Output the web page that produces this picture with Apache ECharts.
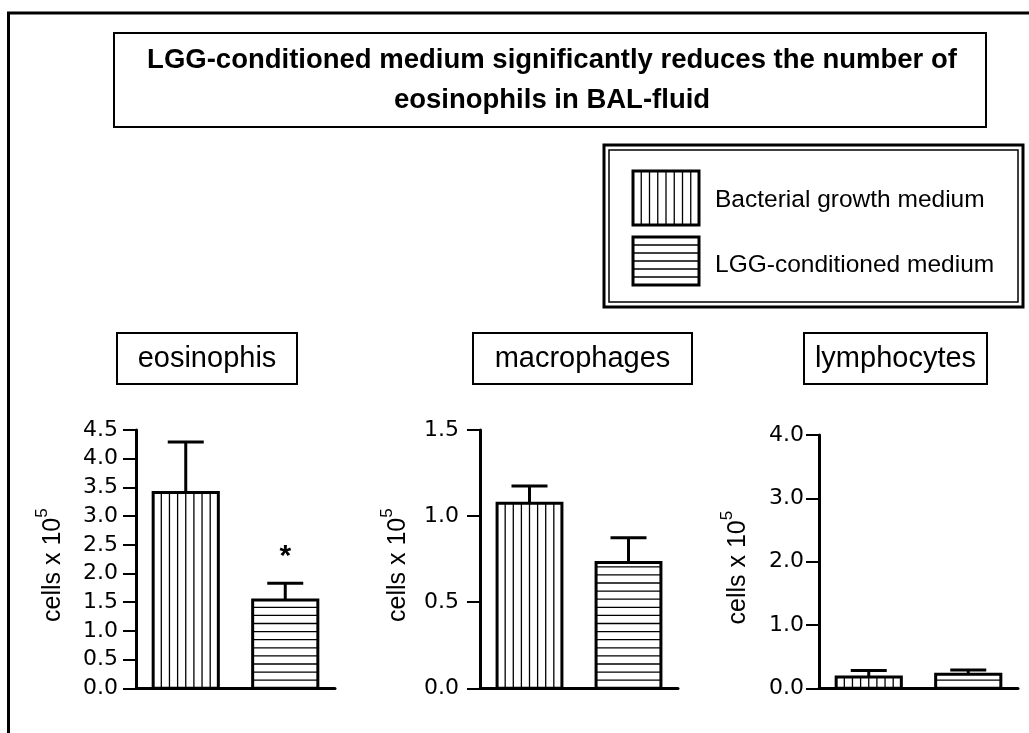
<!DOCTYPE html>
<html>
<head>
<meta charset="utf-8">
<script src="https://cdn.jsdelivr.net/npm/echarts@6/dist/echarts.min.js"></script>
<style>html,body{margin:0;padding:0;background:#fff;}#c{width:1029px;height:733px;}</style>
</head>
<body>
<div id="c"></div>
<script>
// ---- data ----
const titleLines = ['LGG-conditioned medium significantly reduces the number of', 'eosinophils in BAL-fluid'];
const groups = ['Bacterial growth medium', 'LGG-conditioned medium'];
const groupPatterns = ['vertical', 'horizontal'];
const panelNames = ['eosinophis', 'macrophages', 'lymphocytes'];
const yAxisName = 'cells x 10';
const yAxisExp = '5';
const eosMean = [3.41, 1.54];
const eosErrTop = [4.29, 1.83];
const eosSig = ['', '*'];
const macMean = [1.074, 0.73];
const macErrTop = [1.175, 0.875];
const macSig = ['', ''];
const lymMean = [0.18, 0.22];
const lymErrTop = [0.28, 0.29];
const lymSig = ['', ''];
const yMax = [4.5, 1.5, 4.0];
const yInterval = [0.5, 0.5, 1.0];

const FONT = '"Liberation Sans", Arial, sans-serif';
const TICKFONT = '"DejaVu Sans", "Liberation Sans", sans-serif';
const chart = echarts.init(document.getElementById('c'));

function buildData(mean, errTop, sig) {
  return mean.map((m, i) => [i, m, errTop[i], sig[i]]);
}

function renderBar(params, api) {
  const idx = api.value(0);
  const mean = api.value(1);
  const top = api.value(2);
  const sig = api.value(3);
  const base = api.coord([idx, 0]);
  const p = api.coord([idx, mean]);
  const e = api.coord([idx, top]);
  const band = api.size([1, 0])[0];
  const bw = band * 0.655;
  const x0 = base[0] - bw / 2;
  const y0 = p[1];
  const yb = base[1];
  const children = [];
  children.push({type: 'line', shape: {x1: base[0], y1: y0, x2: base[0], y2: e[1]}, style: {stroke: '#000', lineWidth: 3}});
  children.push({type: 'line', shape: {x1: base[0] - 18, y1: e[1], x2: base[0] + 18, y2: e[1]}, style: {stroke: '#000', lineWidth: 3}});
  children.push({type: 'rect', shape: {x: x0, y: y0, width: bw, height: yb - y0}, style: {fill: '#fff', stroke: '#000', lineWidth: 3}});
  if (groupPatterns[idx] === 'vertical') {
    for (let k = 1; k < 8; k++) {
      const x = x0 + k * bw / 8;
      children.push({type: 'line', shape: {x1: x, y1: y0, x2: x, y2: yb}, style: {stroke: '#000', lineWidth: 1.3}});
    }
  } else {
    for (let y = yb - 8.1; y > y0 + 2; y -= 8.1) {
      children.push({type: 'line', shape: {x1: x0, y1: y, x2: x0 + bw, y2: y}, style: {stroke: '#000', lineWidth: 1.3}});
    }
  }
  if (sig) {
    children.push({type: 'text', x: base[0], y: e[1] - 27, style: {text: sig, font: 'bold 30px ' + FONT, fill: '#000', align: 'center', verticalAlign: 'middle'}});
  }
  return {type: 'group', children: children};
}

const grids = [
  {left: 136, top: 430, width: 199, height: 258.3},
  {left: 480, top: 430, width: 198, height: 258.3},
  {left: 819, top: 435, width: 199, height: 253.3}
];
const nameGaps = [70, 69, 68];
const labelMargins = [18, 21, 15];

const xAxes = grids.map((g, i) => ({
  type: 'category', gridIndex: i, data: groups,
  axisLine: {lineStyle: {color: '#000', width: 3}},
  axisTick: {show: false}, axisLabel: {show: false}, splitLine: {show: false}
}));
const yAxes = grids.map((g, i) => ({
  type: 'value', gridIndex: i, min: 0, max: yMax[i], interval: yInterval[i],
  axisLine: {show: true, lineStyle: {color: '#000', width: 3}},
  axisTick: {show: true, length: 13, lineStyle: {color: '#000', width: 2}},
  axisLabel: {color: '#000', fontFamily: TICKFONT, fontSize: 22, margin: labelMargins[i], formatter: v => v.toFixed(1)},
  splitLine: {show: false},
  name: '{a|' + yAxisName + '}{b|' + yAxisExp + '}',
  nameLocation: 'middle', nameRotate: 90, nameGap: nameGaps[i],
  nameTextStyle: {
    padding: [0, 12, 0, 0],
    rich: {
      a: {fontFamily: FONT, fontSize: 25, color: '#000', lineHeight: 32, verticalAlign: 'bottom'},
      b: {fontFamily: FONT, fontSize: 17, color: '#000', lineHeight: 32, verticalAlign: 'top'}
    }
  }
}));

const seriesData = [
  buildData(eosMean, eosErrTop, eosSig),
  buildData(macMean, macErrTop, macSig),
  buildData(lymMean, lymErrTop, lymSig)
];
const series = seriesData.map((d, i) => ({
  type: 'custom', name: panelNames[i], xAxisIndex: i, yAxisIndex: i,
  data: d, renderItem: renderBar, clip: false,
  encode: {x: 0, y: [1, 2]}, silent: true, z: 3
}));

function swatch(x, y, w, h, pattern) {
  const ch = [{type: 'rect', shape: {x: x, y: y, width: w, height: h}, style: {fill: '#fff', stroke: '#000', lineWidth: 3}}];
  if (pattern === 'vertical') {
    for (let k = 1; k < 8; k++) {
      const xx = x + k * w / 8;
      ch.push({type: 'line', shape: {x1: xx, y1: y, x2: xx, y2: y + h}, style: {stroke: '#000', lineWidth: 1.3}});
    }
  } else {
    for (let k = 1; k < 6; k++) {
      const yy = y + k * h / 6;
      ch.push({type: 'line', shape: {x1: x, y1: yy, x2: x + w, y2: yy}, style: {stroke: '#000', lineWidth: 1.3}});
    }
  }
  return ch;
}

const panelBoxes = [
  {x: 117, w: 180},
  {x: 473, w: 219},
  {x: 804, w: 183}
];

const graphics = [
  {type: 'polyline', shape: {points: [[8.5, 733], [8.5, 13], [1029, 13]]}, style: {stroke: '#000', lineWidth: 3, fill: null}},
  {type: 'rect', shape: {x: 114, y: 33, width: 872, height: 94}, style: {fill: '#fff', stroke: '#000', lineWidth: 2}},
  {type: 'text', x: 552, y: 60, style: {text: titleLines[0], font: 'bold 27.5px ' + FONT, fill: '#000', align: 'center', verticalAlign: 'middle'}},
  {type: 'text', x: 552, y: 100, style: {text: titleLines[1], font: 'bold 27.5px ' + FONT, fill: '#000', align: 'center', verticalAlign: 'middle'}},
  {type: 'rect', shape: {x: 604, y: 145, width: 419, height: 162}, style: {fill: '#fff', stroke: '#000', lineWidth: 3}},
  {type: 'rect', shape: {x: 609, y: 150, width: 409, height: 152}, style: {fill: null, stroke: '#000', lineWidth: 1.5}}
].concat(swatch(633, 171, 66, 54, groupPatterns[0]))
 .concat(swatch(633, 237, 66, 48, groupPatterns[1]))
 .concat([
  {type: 'text', x: 715, y: 200, style: {text: groups[0], font: '24.5px ' + FONT, fill: '#000', align: 'left', verticalAlign: 'middle'}},
  {type: 'text', x: 715, y: 265, style: {text: groups[1], font: '24.5px ' + FONT, fill: '#000', align: 'left', verticalAlign: 'middle'}}
 ]);
panelBoxes.forEach((b, i) => {
  graphics.push({type: 'rect', shape: {x: b.x, y: 333, width: b.w, height: 51}, style: {fill: '#fff', stroke: '#000', lineWidth: 2}});
  graphics.push({type: 'text', x: b.x + b.w / 2, y: 359, style: {text: panelNames[i], font: '29px ' + FONT, fill: '#000', align: 'center', verticalAlign: 'middle'}});
});

chart.setOption({
  backgroundColor: '#fff',
  animation: false,
  grid: grids,
  xAxis: xAxes,
  yAxis: yAxes,
  series: series,
  graphic: graphics
});
</script>
</body>
</html>
